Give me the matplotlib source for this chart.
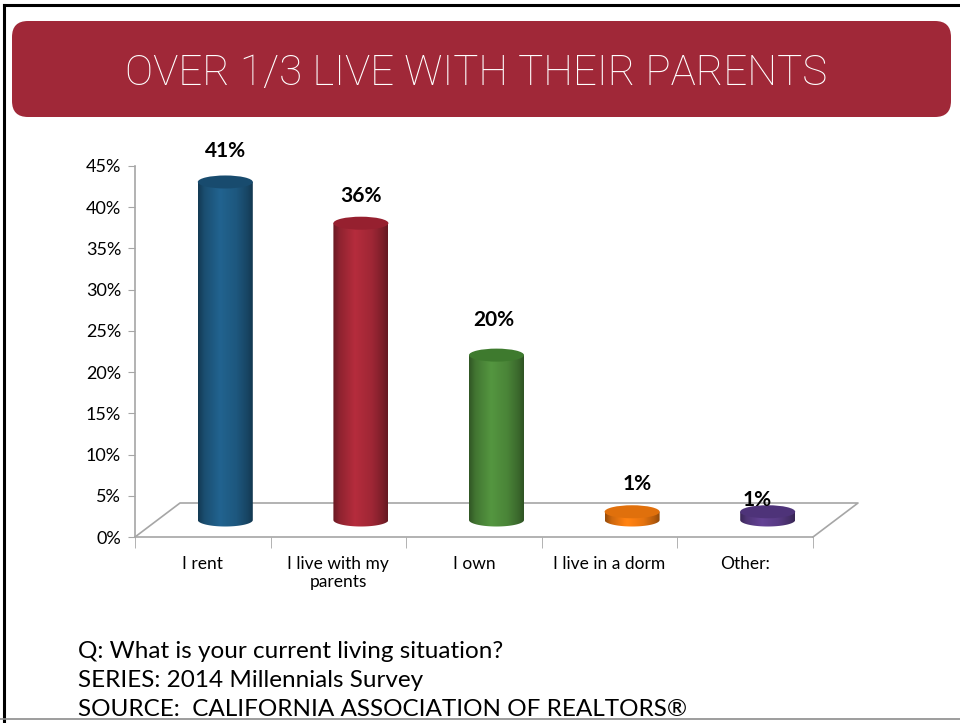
import numpy as np
import matplotlib
matplotlib.use('Agg')
import matplotlib.pyplot as plt
from matplotlib import font_manager
from matplotlib.patches import FancyBboxPatch, Ellipse, PathPatch
from matplotlib.path import Path
from matplotlib.ticker import PercentFormatter

categories = ['I rent', 'I live with my\nparents', 'I own', 'I live in a dorm', 'Other:']
values = [0.41, 0.36, 0.20, 0.01, 0.01]
value_labels = ['41%', '36%', '20%', '1%', '1%']
yticks = [0, 0.05, 0.10, 0.15, 0.20, 0.25, 0.30, 0.35, 0.40, 0.45]

side_colors = ['#1f5c85', '#a82938', '#4e8b3b', '#f27a10', '#5d3e8b']
top_colors = ['#184b6e', '#96202f', '#3e7a2e', '#e0700c', '#4e3379']
# label offsets in pixels (x, y) from top of each cylinder
label_off = [(0, 31), (0, 27), (-3, 35), (5, 28), (-11, 12)]

title = 'OVER 1/3 LIVE WITH THEIR PARENTS'
notes = ['Q: What is your current living situation?',
         'SERIES: 2014 Millennials Survey',
         'SOURCE:  CALIFORNIA ASSOCIATION OF REALTORS®']

installed = {f.name for f in font_manager.fontManager.ttflist}
body_font = 'Lato' if 'Lato' in installed else 'DejaVu Sans'
title_font = 'Liberation Sans Narrow' if 'Liberation Sans Narrow' in installed else 'Roboto'

W, H = 960, 723
fig = plt.figure(figsize=(W / 100, H / 100), dpi=100)

# background layer in pixel coordinates
bg = fig.add_axes([0, 0, 1, 1])
bg.set_xlim(0, W)
bg.set_ylim(H, 0)
bg.axis('off')

bg.plot([4, W], [5, 5], color='black', lw=2.2)
bg.plot([4, 4], [5, H], color='black', lw=2.2)
bg.plot([0, W], [718.5, 718.5], color='#8c8c8c', lw=1.2, zorder=5)

banner = FancyBboxPatch((12, 21), 939, 96, boxstyle='round,pad=0,rounding_size=16',
                        facecolor='#a02838', edgecolor='none')
bg.add_patch(banner)
t = bg.text(476, 85, title, color='white', fontsize=30, family=title_font,
            fontweight='light', ha='center', va='baseline')
# fit title width to the banner text span
fig.canvas.draw()
tw = t.get_window_extent().width
t.set_fontsize(30 * 703 / tw)

for i, line in enumerate(notes):
    bg.text(78, 658 + i * 29, line, fontsize=17.5, family=body_font,
            ha='left', va='baseline', color='black')

# chart axes: 0..45% maps to pixel 537..166, 5 categories span x 135..813
x0, x1, yb, yt = 135, 813, 537, 166
ax = fig.add_axes([x0 / W, (H - yb) / H, (x1 - x0) / W, (yb - yt) / H])
ax.set_facecolor('none')
ax.set_xlim(0, 5)
ax.set_ylim(0, 0.45)

px_x = (x1 - x0) / 5.0           # pixels per category
px_y = (yb - yt) / 0.45          # pixels per unit
depth_dx = 45 / px_x
depth_dy = 34 / px_y

grey = '#a6a6a6'
for s in ['top', 'right']:
    ax.spines[s].set_visible(False)
for s in ['left', 'bottom']:
    ax.spines[s].set_color(grey)
    ax.spines[s].set_linewidth(1.2)

# floor outline
ax.plot([0, depth_dx, 5 + depth_dx, 5], [0, depth_dy, depth_dy, 0],
        color=grey, lw=1.2, clip_on=False, zorder=1)

ax.set_yticks(yticks)
ax.yaxis.set_major_formatter(PercentFormatter(1.0, decimals=0))
ax.tick_params(axis='y', direction='out', length=5, color=grey, labelsize=13, pad=5)
for lab in ax.get_yticklabels():
    lab.set_family(body_font)

ax.set_xticks(np.arange(len(categories)) + 0.5)
ax.set_xticklabels(categories, family=body_font, fontsize=12.5, linespacing=1.1)
ax.tick_params(axis='x', length=0, pad=14)
ax.set_xticks(np.arange(len(categories) + 1), minor=True)
ax.tick_params(axis='x', which='minor', length=8, direction='out', color=grey)

# cylinders
bw = 55 / px_x
eh = 13 / px_y
base = depth_dy / 2
shade = np.interp(np.linspace(0, 1, 200), [0, 0.12, 0.4, 0.7, 0.9, 1],
                  [0.62, 0.85, 1.08, 0.95, 0.75, 0.6])
for i, v in enumerate(values):
    cx = i + 0.5 + depth_dx / 2
    top = base + v
    left, right = cx - bw / 2, cx + bw / 2
    th = np.linspace(np.pi, 2 * np.pi, 60)
    xs = np.concatenate([[left, left], cx + bw / 2 * np.cos(th), [right, right]])
    ys = np.concatenate([[top, base], base + eh / 2 * np.sin(th), [base, top]])
    body = PathPatch(Path(np.column_stack([xs, ys]), closed=False),
                     facecolor='none', edgecolor='none', transform=ax.transData)
    ax.add_patch(body)
    rgb = np.array(matplotlib.colors.to_rgb(side_colors[i]))
    grad = np.clip(shade[:, None] * rgb[None, :], 0, 1)[None, :, :]
    im = ax.imshow(grad, extent=(left, right, base - eh, top), aspect='auto',
                   interpolation='bilinear', zorder=2)
    im.set_clip_path(body)
    ax.add_patch(Ellipse((cx, top), bw, eh, facecolor=top_colors[i],
                         edgecolor='none', zorder=3))
    ax.annotate(value_labels[i], (cx, top), xytext=label_off[i],
                textcoords='offset pixels', ha='center', va='center',
                fontsize=15, fontweight='bold', family=body_font, zorder=4)

ax.set_xlim(0, 5)
ax.set_ylim(0, 0.45)

plt.savefig('out.png', dpi=100)
